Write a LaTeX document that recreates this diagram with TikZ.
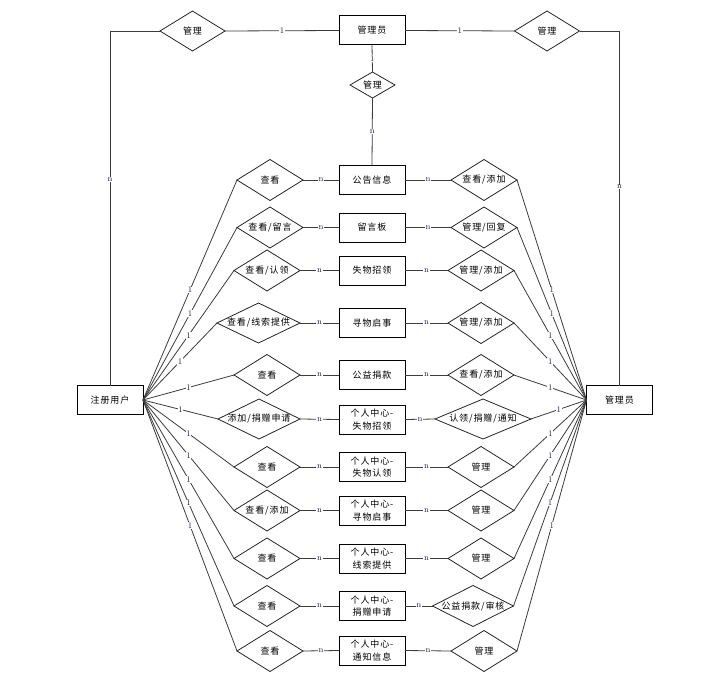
\documentclass[tikz,border=0pt]{standalone}
\usepackage{fontspec}
\usetikzlibrary{shapes.geometric}
\newfontfamily\cjk{Noto Sans CJK SC}[LetterSpace=10]
\definecolor{lblc}{RGB}{30,30,90}
\definecolor{linec}{RGB}{60,60,60}
\tikzset{
  ent/.style={draw=black, line width=1pt, minimum width=66pt, minimum height=29pt,
    inner sep=0pt, outer sep=0pt, align=center,
    font=\cjk\fontsize{9}{12.5}\selectfont},
  dia/.style={diamond, draw=black!85, line width=0.8pt, inner sep=0pt, outer sep=0pt},
  dlab/.style={font=\cjk\fontsize{9}{11}\selectfont, inner sep=0pt},
  dt/.style={label={[dlab]center:#1}},
  dsz/.style args={#1/#2}{minimum width=#1pt, minimum height=#2pt},
  conn/.style={draw=linec, line width=0.8pt},
  lbl/.style={font=\fontsize{8.5}{9}\selectfont, text=lblc, fill=white, inner sep=0.6pt}
}
\begin{document}
\begin{tikzpicture}[x=1pt, y=-1pt]
\useasboundingbox (0,0) rectangle (701,685);
\fill[white] (0,0) rectangle (701,685);

% top entity and its relations
\node[ent] (adm) at (372,30.5) {管理员};
\node[dia, dsz=65/40, dt=管理] (dTL) at (192.5,31) {};
\node[dia, dsz=65/40, dt=管理] (dTR) at (547,31) {};
\node[dia, dsz=45/26, dt=管理] (dM) at (372.5,85) {};

% side entities
\node[ent] (user) at (110,400) {注册用户};
\node[ent] (admR) at (619.5,400) {管理员};

% center entities
\node[ent] (B1) at (372,180) {公告信息};
\node[ent] (B2) at (372,227.5) {留言板};
\node[ent] (B3) at (372,270.5) {失物招领};
\node[ent] (B4) at (372,323) {寻物启事};
\node[ent] (B5) at (372,375) {公益捐款};
\node[ent] (B6) at (372,419.5) {个人中心-\\失物招领};
\node[ent] (B7) at (372,467) {个人中心-\\失物认领};
\node[ent] (B8) at (372,510.5) {个人中心-\\寻物启事};
\node[ent] (B9) at (372,558.5) {个人中心-\\线索提供};
\node[ent] (B10) at (372,606) {个人中心-\\捐赠申请};
\node[ent] (B11) at (372,650.5) {个人中心-\\通知信息};

% left relations
\node[dia, dsz=66/41, dt=查看] (L1) at (270,180) {};
\node[dia, dsz=66/41, dt=查看/留言] (L2) at (270,227.5) {};
\node[dia, dsz=66/41, dt=查看/认领] (L3) at (267,270.5) {};
\node[dia, dsz=83/40, dt=查看/线索提供] (L4) at (258.5,323) {};
\node[dia, dsz=66/41, dt=查看] (L5) at (267,375) {};
\node[dia, dsz=82/40, dt=添加/捐赠申请] (L6) at (259,419) {};
\node[dia, dsz=66/41, dt=查看] (L7) at (267,467) {};
\node[dia, dsz=66/41, dt=查看/添加] (L8) at (267,510.5) {};
\node[dia, dsz=66/41, dt=查看] (L9) at (267,558.5) {};
\node[dia, dsz=66/41, dt=查看] (L10) at (267,606) {};
\node[dia, dsz=66/41, dt=查看] (L11) at (270,651) {};

% right relations
\node[dia, dsz=66/41, dt=查看/添加] (R1) at (484,180) {};
\node[dia, dsz=66/41, dt=管理/回复] (R2) at (484,227.5) {};
\node[dia, dsz=66/41, dt=管理/添加] (R3) at (481,270.5) {};
\node[dia, dsz=66/41, dt=管理/添加] (R4) at (481,323) {};
\node[dia, dsz=66/41, dt=查看/添加] (R5) at (481,375) {};
\node[dia, dsz=96/40, dt=认领/捐赠/通知] (R6) at (483,419) {};
\node[dia, dsz=66/41, dt=管理] (R7) at (481,467) {};
\node[dia, dsz=66/41, dt=管理] (R8) at (481,510.5) {};
\node[dia, dsz=66/41, dt=管理] (R9) at (481,558.5) {};
\node[dia, dsz=81/41, dt=公益捐款/审核] (R10) at (473,606) {};
\node[dia, dsz=66/41, dt=管理] (R11) at (484,651) {};

% top connectors
\draw[conn] (dTL.east) -- node[lbl]{1} (adm.west);
\draw[conn] (adm.east) -- node[lbl]{1} (dTR.west);
\draw[conn] (dTL.west) -| node[lbl, pos=0.71]{n} (user.north);
\draw[conn] (dTR.east) -| node[lbl, pos=0.72]{n} (admR.north);
\draw[conn] (adm.south) -- node[lbl]{1} (dM.north);
\draw[conn] (dM.south) -- node[lbl]{n} (B1.north);

% row connectors
\foreach \i in {1,...,11}{
  \draw[conn] (user.east) -- node[lbl]{1} (L\i.west);
  \draw[conn] (L\i.east) -- node[lbl]{n} (B\i.west);
  \draw[conn] (B\i.east) -- node[lbl]{n} (R\i.west);
  \draw[conn] (R\i.east) -- node[lbl]{1} (admR.west);
}
\end{tikzpicture}
\end{document}
